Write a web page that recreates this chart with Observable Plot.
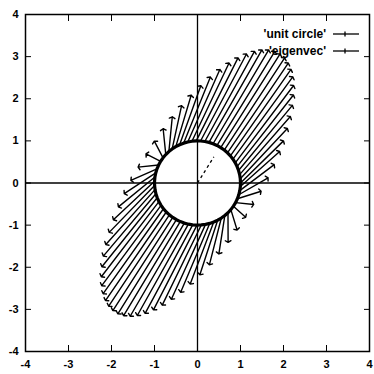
<!DOCTYPE html>
<html>
<head>
<meta charset="utf-8">
<script src="https://cdn.jsdelivr.net/npm/d3@7"></script>
<script src="https://cdn.jsdelivr.net/npm/@observablehq/plot@0.6"></script>
<style>
  html, body { margin: 0; padding: 0; background: #fff; }
  #chart svg { display: block; }
</style>
</head>
<body>
<div id="chart"></div>
<script>
// Points on the unit circle (tails of the vectors)
const circleX = [1.000, 0.995, 0.980, 0.955, 0.921, 0.878, 0.825, 0.765, 0.697, 0.622,
  0.540, 0.454, 0.362, 0.267, 0.170, 0.071, -0.029, -0.129, -0.227, -0.323,
  -0.416, -0.505, -0.589, -0.666, -0.737, -0.801, -0.857, -0.904, -0.942, -0.971,
  -0.990, -0.999, -0.998, -0.987, -0.967, -0.936, -0.897, -0.848, -0.791, -0.726,
  -0.654, -0.575, -0.490, -0.401, -0.307, -0.211, -0.112, -0.012, 0.088, 0.187,
  0.284, 0.378, 0.469, 0.554, 0.635, 0.709, 0.776, 0.835, 0.886, 0.927,
  0.960, 0.983, 0.997];
const circleY = [0.000, 0.100, 0.199, 0.296, 0.389, 0.479, 0.565, 0.644, 0.717, 0.783,
  0.841, 0.891, 0.932, 0.964, 0.985, 0.997, 1.000, 0.992, 0.974, 0.946,
  0.909, 0.863, 0.808, 0.746, 0.675, 0.598, 0.516, 0.427, 0.335, 0.239,
  0.141, 0.042, -0.058, -0.158, -0.256, -0.351, -0.443, -0.530, -0.612, -0.688,
  -0.757, -0.818, -0.872, -0.916, -0.952, -0.978, -0.994, -1.000, -0.996, -0.982,
  -0.959, -0.926, -0.883, -0.832, -0.773, -0.706, -0.631, -0.550, -0.465, -0.374,
  -0.279, -0.182, -0.083];

// Images of those points (heads of the vectors)
const imageX = [2.000, 2.090, 2.159, 2.206, 2.231, 2.235, 2.215, 2.174, 2.111, 2.027,
  1.921, 1.799, 1.656, 1.498, 1.325, 1.139, 0.942, 0.734, 0.520, 0.300,
  0.077, -0.147, -0.370, -0.586, -0.799, -1.004, -1.198, -1.381, -1.549, -1.703,
  -1.839, -1.956, -2.054, -2.132, -2.190, -2.223, -2.237, -2.226, -2.194, -2.140,
  -2.065, -1.968, -1.852, -1.718, -1.566, -1.400, -1.218, -1.024, -0.820, -0.608,
  -0.391, -0.170, 0.055, 0.276, 0.497, 0.712, 0.921, 1.120, 1.307, 1.480,
  1.641, 1.784, 1.911];
const imageY = [1.000, 1.295, 1.577, 1.843, 2.088, 2.315, 2.520, 2.697, 2.848, 2.971,
  3.063, 3.127, 3.158, 3.159, 3.125, 3.062, 2.971, 2.847, 2.695, 2.515,
  2.311, 2.084, 1.835, 1.572, 1.288, 0.993, 0.691, 0.377, 0.063, -0.254,
  -0.567, -0.873, -1.172, -1.461, -1.735, -1.989, -2.226, -2.438, -2.627, -2.790,
  -2.925, -3.029, -3.106, -3.149, -3.163, -3.145, -3.094, -3.012, -2.900, -2.759,
  -2.593, -2.400, -2.180, -1.942, -1.684, -1.409, -1.117, -0.815, -0.509, -0.195,
  0.123, 0.437, 0.748];

// Dominant eigenvector direction, drawn dashed from the origin
const eigenX = [0, 0.38];
const eigenY = [0, 0.62];

// Axis ticks and legend labels
const xTicks = [-4, -3, -2, -1, 0, 1, 2, 3, 4];
const yTicks = [-4, -3, -2, -1, 0, 1, 2, 3, 4];
const legendLabels = ["'unit circle'", "'eigenvec'"];

const vectors = circleX.map((x, i) => ({x1: x, y1: circleY[i], x2: imageX[i], y2: imageY[i]}));
const circle = circleX.map((x, i) => ({x, y: circleY[i]}));
const eigen = [{x1: eigenX[0], y1: eigenY[0], x2: eigenX[1], y2: eigenY[1]}];

const fmt = d => `${d}`;
const font = "'Liberation Sans', Arial, Helvetica, sans-serif";

const chart = Plot.plot({
  width: 374,
  height: 374,
  marginLeft: 25,
  marginRight: 5,
  marginTop: 14,
  marginBottom: 23,
  style: {fontFamily: font, fontSize: "11px", color: "#000", background: "#fff"},
  x: {domain: [-4, 4]},
  y: {domain: [-4, 4]},
  marks: [
    Plot.ruleX([0], {stroke: "#000", strokeWidth: 1.3}),
    Plot.ruleY([0], {stroke: "#000", strokeWidth: 1.3}),
    Plot.arrow(vectors, {
      x1: "x1", y1: "y1", x2: "x2", y2: "y2",
      stroke: "#000", strokeWidth: 1.4,
      headLength: 3.5, headAngle: 120
    }),
    Plot.line(circle, {x: "x", y: "y", curve: "linear-closed", stroke: "#000", strokeWidth: 3.2}),
    Plot.link(eigen, {
      x1: "x1", y1: "y1", x2: "x2", y2: "y2",
      stroke: "#000", strokeWidth: 1.3, strokeDasharray: "3,3"
    }),
    Plot.frame({stroke: "#000", strokeWidth: 1.5}),
    Plot.axisX({ticks: xTicks, anchor: "bottom", tickSize: -6, tickPadding: 15, tickFormat: fmt, label: null, fontWeight: "bold"}),
    Plot.axisX({ticks: xTicks, anchor: "top", tickSize: -6, tickFormat: () => "", label: null}),
    Plot.axisY({ticks: yTicks, anchor: "left", tickSize: -6, tickPadding: 13, tickFormat: fmt, label: null, fontWeight: "bold"}),
    Plot.axisY({ticks: yTicks, anchor: "right", tickSize: -6, tickFormat: () => "", label: null})
  ]
});

document.getElementById("chart").appendChild(chart);

// Key in the upper right corner of the frame
const svg = d3.select(chart);
const key = svg.append("g").attr("font-family", font).attr("font-size", 12)
  .attr("font-weight", "bold").attr("fill", "#000");
legendLabels.forEach((label, i) => {
  const y = 34 + i * 17;
  key.append("text").attr("x", 326).attr("y", y).attr("dy", "0.35em")
    .attr("text-anchor", "end").text(label);
  key.append("line").attr("x1", 333).attr("x2", 359).attr("y1", y).attr("y2", y)
    .attr("stroke", "#000").attr("stroke-width", 1.3);
  key.append("line").attr("x1", 345).attr("x2", 345).attr("y1", y - 2.5).attr("y2", y + 2.5)
    .attr("stroke", "#000").attr("stroke-width", 1.3);
});
</script>
</body>
</html>
